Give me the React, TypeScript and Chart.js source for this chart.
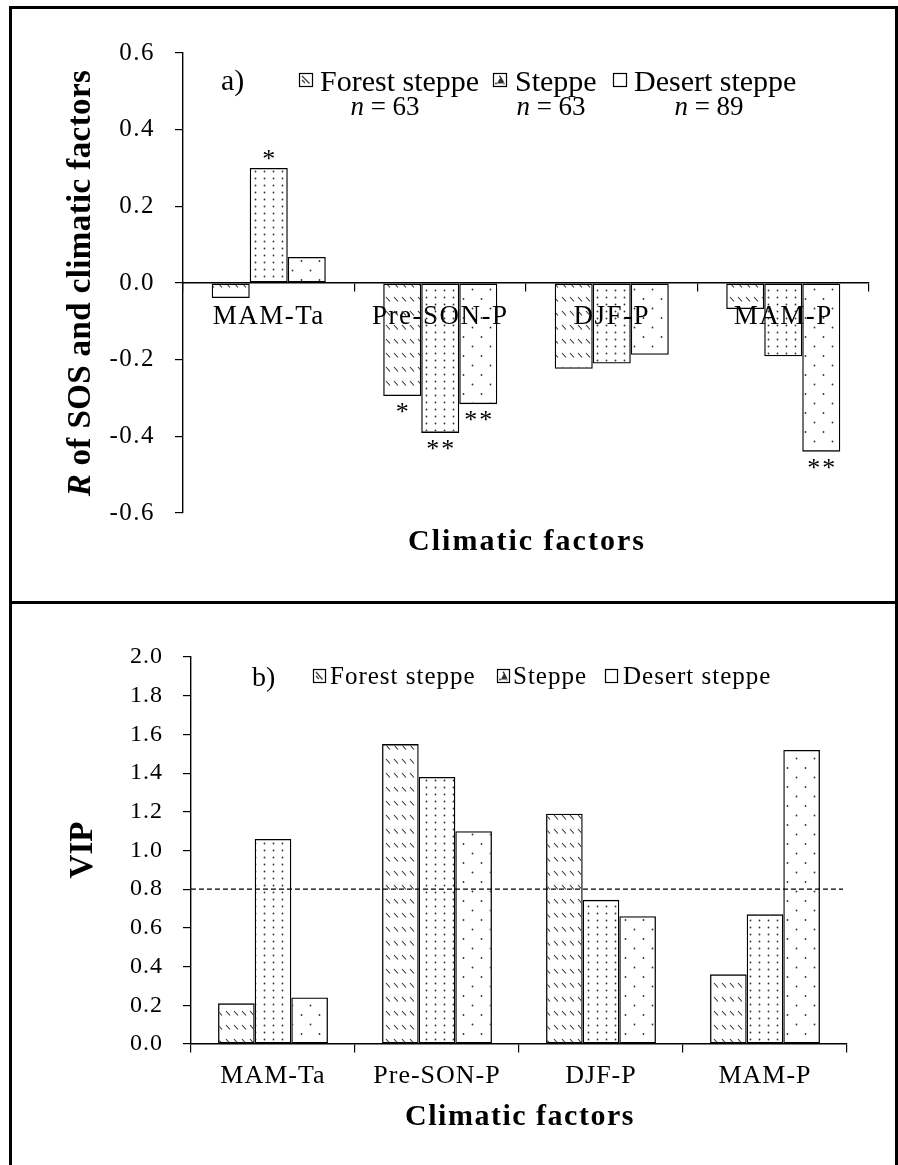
import React, { useEffect, useRef } from 'react';
import { Chart, registerables } from 'chart.js';

Chart.register(...registerables);

// ---------- data ----------
const CATEGORIES = ['MAM-Ta', 'Pre-SON-P', 'DJF-P', 'MAM-P'];
const SERIES_NAMES = ['Forest steppe', 'Steppe', 'Desert steppe'];
const SAMPLE_N = ['63', '63', '89'];

const R_FOREST = [-0.039, -0.295, -0.224, -0.068];
const R_STEPPE = [0.3, -0.391, -0.21, -0.191];
const R_DESERT = [0.068, -0.316, -0.187, -0.44];
const SIG_FOREST = ['', '*', '', ''];
const SIG_STEPPE = ['*', '**', '', ''];
const SIG_DESERT = ['', '**', '', '**'];
const R_TICKS = [-0.6, -0.4, -0.2, 0, 0.2, 0.4, 0.6];

const VIP_FOREST = [0.21, 1.55, 1.19, 0.36];
const VIP_STEPPE = [1.06, 1.38, 0.745, 0.67];
const VIP_DESERT = [0.24, 1.1, 0.66, 1.52];
const VIP_TICKS = [0, 0.2, 0.4, 0.6, 0.8, 1.0, 1.2, 1.4, 1.6, 1.8, 2.0];
const VIP_THRESHOLD = 0.8;

const FONT = '"Liberation Serif", "Times New Roman", serif';
const W = 898;
const TOP_H = 602;
const BOTTOM_H = 563;

// ---------- helpers ----------
function makePattern(kind: string): CanvasPattern | string {
  const c = document.createElement('canvas');
  const g = c.getContext('2d')!;
  if (kind === 'forest') {
    c.width = 8; c.height = 14;
    g.strokeStyle = '#333';
    g.lineWidth = 1.1;
    g.beginPath();
    g.moveTo(2, 3);
    g.lineTo(6, 7.5);
    g.stroke();
  } else if (kind === 'steppe') {
    c.width = 9; c.height = 7;
    g.fillStyle = '#333';
    g.beginPath();
    g.arc(3.5, 3.5, 0.9, 0, Math.PI * 2);
    g.fill();
  } else {
    c.width = 18; c.height = 19;
    g.fillStyle = '#333';
    g.beginPath();
    g.arc(4.5, 4.5, 0.9, 0, Math.PI * 2);
    g.arc(13.5, 14, 0.9, 0, Math.PI * 2);
    g.fill();
  }
  const p = g.createPattern(c, 'repeat');
  return p || '#fff';
}

type TOpts = { size: number; bold?: boolean; italic?: boolean; align?: CanvasTextAlign; ls?: number };

function fontStr(o: TOpts) {
  return `${o.italic ? 'italic ' : ''}${o.bold ? 'bold ' : ''}${o.size}px ${FONT}`;
}

function drawText(ctx: CanvasRenderingContext2D, text: string, x: number, y: number, o: TOpts) {
  ctx.save();
  ctx.font = fontStr(o);
  (ctx as any).letterSpacing = `${o.ls || 0}px`;
  ctx.textAlign = o.align || 'left';
  ctx.textBaseline = 'alphabetic';
  ctx.fillStyle = '#000';
  ctx.fillText(text, x, y);
  ctx.restore();
}

// draw a run of parts (mixed italic) centred at x
function drawRuns(ctx: CanvasRenderingContext2D, parts: { t: string; o: TOpts }[], cx: number, y: number) {
  ctx.save();
  const widths = parts.map((p) => {
    ctx.font = fontStr(p.o);
    (ctx as any).letterSpacing = `${p.o.ls || 0}px`;
    return ctx.measureText(p.t).width;
  });
  const total = widths.reduce((a, b) => a + b, 0);
  let x = cx - total / 2;
  parts.forEach((p, i) => {
    drawText(ctx, p.t, x, y, { ...p.o, align: 'left' });
    x += widths[i];
  });
  ctx.restore();
}

function legendBox(ctx: CanvasRenderingContext2D, kind: string, x: number, y: number, w: number, h: number) {
  ctx.save();
  ctx.fillStyle = '#fff';
  ctx.fillRect(x, y, w, h);
  ctx.strokeStyle = '#000';
  ctx.lineWidth = 1.2;
  ctx.strokeRect(x + 0.5, y + 0.5, w, h);
  ctx.fillStyle = '#333';
  ctx.strokeStyle = '#333';
  if (kind === 'forest') {
    ctx.lineWidth = 1.2;
    ctx.beginPath();
    ctx.moveTo(x + 3, y + 3);
    ctx.lineTo(x + w - 2.5, y + h - 2.5);
    ctx.moveTo(x + 3, y + 7);
    ctx.lineTo(x + 6, y + 10);
    ctx.stroke();
  } else if (kind === 'steppe') {
    ctx.beginPath();
    ctx.arc(x + w / 2 + 0.5, y + 3.5, 0.9, 0, Math.PI * 2);
    ctx.arc(x + 3, y + h - 2.5, 0.9, 0, Math.PI * 2);
    ctx.arc(x + w - 2, y + h - 2.5, 0.9, 0, Math.PI * 2);
    ctx.fill();
  }
  ctx.restore();
}

function drawRotatedRuns(ctx: CanvasRenderingContext2D, parts: { t: string; o: TOpts }[], bx: number, cy: number) {
  ctx.save();
  ctx.translate(bx, cy);
  ctx.rotate(-Math.PI / 2);
  drawRuns(ctx, parts, 0, 0);
  ctx.restore();
}

function baseConfig(opts: {
  values: number[][];
  ticks: number[];
  min: number;
  max: number;
  padding: { left: number; right: number; top: number; bottom: number };
  yWidth: number;
  catPct: number;
  yTickPad: number;
  xTickPad: number;
  xFontSize: number;
  yFontSize: number;
  yLs: number;
  xLs: number;
  plugins: any[];
}) {
  const kinds = ['forest', 'steppe', 'desert'];
  return {
    type: 'bar' as const,
    data: {
      labels: CATEGORIES,
      datasets: opts.values.map((vals, i) => ({
        label: SERIES_NAMES[i],
        data: vals,
        backgroundColor: makePattern(kinds[i]),
        borderColor: '#000',
        borderWidth: 1.3,
        borderSkipped: false,
        categoryPercentage: opts.catPct,
        barPercentage: 1,
      })),
    },
    options: {
      animation: false,
      responsive: false,
      maintainAspectRatio: false,
      events: [],
      layout: { padding: opts.padding },
      plugins: { legend: { display: false }, tooltip: { enabled: false }, title: { display: false } },
      scales: {
        x: {
          type: 'category',
          position: { y: 0 },
          z: 1,
          offset: true,
          grid: { drawOnChartArea: false, drawTicks: true, tickLength: 8, color: '#000', lineWidth: 1.2, offset: true },
          border: { display: true, color: '#000', width: 1.4 },
          ticks: {
            color: '#000',
            font: { family: FONT, size: opts.xFontSize },
            padding: opts.xTickPad,
            maxRotation: 0,
            minRotation: 0,
            autoSkip: false,
          },
        },
        y: {
          type: 'linear',
          min: opts.min,
          max: opts.max,
          afterFit: (s: any) => { s.width = opts.yWidth; },
          afterBuildTicks: (s: any) => { s.ticks = opts.ticks.map((v) => ({ value: v })); },
          grid: { drawOnChartArea: false, drawTicks: true, tickLength: 8, color: '#000', lineWidth: 1.2 },
          border: { display: true, color: '#000', width: 1.4 },
          ticks: {
            color: '#000',
            font: { family: FONT, size: opts.yFontSize },
            padding: opts.yTickPad,
            callback: (v: any) => Number(v).toFixed(1),
          },
        },
      },
    },
    plugins: [
      {
        id: 'lsY',
        beforeDraw: (chart: any) => { chart.ctx.letterSpacing = `${opts.yLs}px`; },
        beforeDatasetsDraw: (chart: any) => { chart.ctx.letterSpacing = '0px'; },
        afterDatasetsDraw: (chart: any) => { chart.ctx.letterSpacing = `${opts.xLs}px`; },
        afterDraw: (chart: any) => { chart.ctx.letterSpacing = '0px'; },
      },
      ...opts.plugins,
    ],
  };
}

export default function App() {
  const topRef = useRef<HTMLCanvasElement>(null);
  const botRef = useRef<HTMLCanvasElement>(null);

  useEffect(() => {
    document.body.style.margin = '0';
    const sigs = [SIG_FOREST, SIG_STEPPE, SIG_DESERT];
    const kinds = ['forest', 'steppe', 'desert'];

    const topDecor = {
      id: 'topDecor',
      afterDatasetsDraw: (chart: any) => {
        const ctx = chart.ctx as CanvasRenderingContext2D;
        chart.data.datasets.forEach((ds: any, i: number) => {
          const meta = chart.getDatasetMeta(i);
          meta.data.forEach((bar: any, j: number) => {
            const s = sigs[i][j];
            if (!s) return;
            const v = ds.data[j];
            const yy = v >= 0 ? bar.y - 1 : bar.y + 24;
            drawText(ctx, s, bar.x + 1, yy, { size: 26, align: 'center', ls: 2 });
          });
        });
      },
      afterDraw: (chart: any) => {
        const ctx = chart.ctx as CanvasRenderingContext2D;
        drawText(ctx, 'a)', 221, 90, { size: 30 });
        const boxX = [299, 493, 613];
        const txtX = [320, 515, 634];
        const nX = [385, 551, 709];
        SERIES_NAMES.forEach((name, i) => {
          legendBox(ctx, kinds[i], boxX[i], 73, 13, 13);
          drawText(ctx, name, txtX[i], 91, { size: 30 });
          drawRuns(
            ctx,
            [
              { t: 'n', o: { size: 27, italic: true } },
              { t: ' = ' + SAMPLE_N[i], o: { size: 27 } },
            ],
            nX[i],
            115
          );
        });
        drawText(ctx, 'Climatic factors', 527, 550, { size: 30, bold: true, align: 'center', ls: 2 });
        drawRotatedRuns(
          ctx,
          [
            { t: 'R', o: { size: 33, bold: true, italic: true } },
            { t: ' of SOS and climatic factors', o: { size: 33, bold: true, ls: 0.4 } },
          ],
          90,
          283
        );
      },
    };

    const botDecor = {
      id: 'botDecor',
      afterDatasetsDraw: (chart: any) => {
        const ctx = chart.ctx as CanvasRenderingContext2D;
        const y = chart.scales.y.getPixelForValue(VIP_THRESHOLD);
        ctx.save();
        ctx.strokeStyle = '#000';
        ctx.lineWidth = 1.2;
        ctx.setLineDash([5, 3]);
        ctx.beginPath();
        ctx.moveTo(chart.chartArea.left, y);
        ctx.lineTo(chart.chartArea.right - 4, y);
        ctx.stroke();
        ctx.restore();
      },
      afterDraw: (chart: any) => {
        const ctx = chart.ctx as CanvasRenderingContext2D;
        const off = 602;
        drawText(ctx, 'b)', 252, 686 - off, { size: 28 });
        const boxX = [313, 497, 605];
        const txtX = [330, 513, 623];
        SERIES_NAMES.forEach((name, i) => {
          legendBox(ctx, kinds[i], boxX[i], 669 - off, 12, 13);
          drawText(ctx, name, txtX[i], 684 - off, { size: 25, ls: 1 });
        });
        drawText(ctx, 'Climatic factors', 520, 1125 - off, { size: 30, bold: true, align: 'center', ls: 1.5 });
        drawRotatedRuns(ctx, [{ t: 'VIP', o: { size: 33, bold: true } }], 92, 850 - off);
      },
    };

    const top = new Chart(
      topRef.current!,
      baseConfig({
        values: [R_FOREST, R_STEPPE, R_DESERT],
        ticks: R_TICKS,
        min: -0.6,
        max: 0.6,
        padding: { left: 0, right: W - 869, top: 53, bottom: TOP_H - 513 },
        yWidth: 183,
        catPct: 0.665,
        yTickPad: 20,
        xTickPad: 10,
        xFontSize: 27,
        yFontSize: 25,
        yLs: 1.5,
        xLs: 1.5,
        plugins: [topDecor],
      }) as any
    );
    const bot = new Chart(
      botRef.current!,
      baseConfig({
        values: [VIP_FOREST, VIP_STEPPE, VIP_DESERT],
        ticks: VIP_TICKS,
        min: 0,
        max: 2,
        padding: { left: 0, right: W - 847, top: 55, bottom: BOTTOM_H - 442 },
        yWidth: 191,
        catPct: 0.67,
        yTickPad: 20,
        xTickPad: 9,
        xFontSize: 26,
        yFontSize: 24,
        yLs: 1,
        xLs: 0.5,
        plugins: [botDecor],
      }) as any
    );
    return () => {
      top.destroy();
      bot.destroy();
    };
  }, []);

  const line = (s: React.CSSProperties) => (
    <div style={{ position: 'absolute', background: '#000', ...s }} />
  );

  return (
    <div style={{ position: 'relative', width: W, height: 1165, overflow: 'hidden', background: '#fff' }}>
      <canvas ref={topRef} width={W} height={TOP_H} style={{ position: 'absolute', left: 0, top: 0 }} />
      <canvas ref={botRef} width={W} height={BOTTOM_H} style={{ position: 'absolute', left: 0, top: 602 }} />
      {line({ left: 9, top: 6, width: W - 9, height: 3 })}
      {line({ left: 9, top: 6, width: 3, height: 1165 })}
      {line({ left: 9, top: 601, width: W - 9, height: 3 })}
      {line({ left: W - 3, top: 6, width: 3, height: 1165 })}
    </div>
  );
}
